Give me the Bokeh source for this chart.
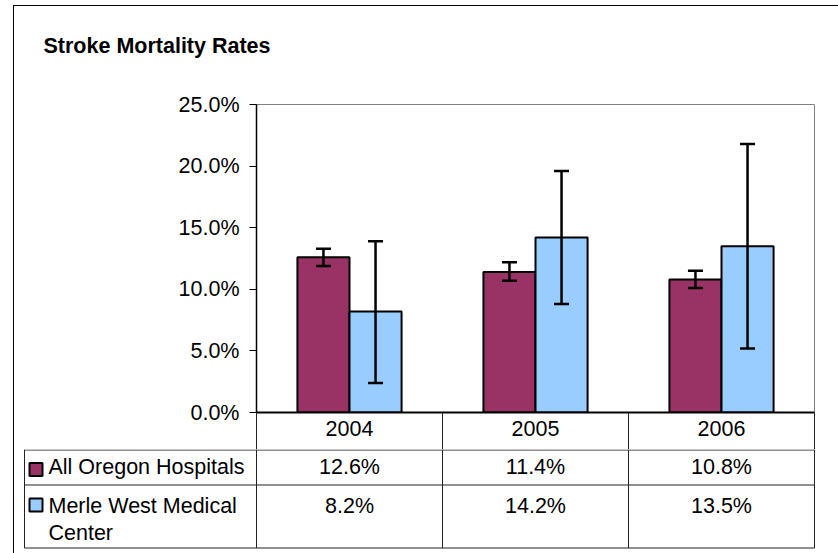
import textwrap
from bokeh.plotting import figure
from bokeh.models import Range1d, FixedTicker, PrintfTickFormatter, ColumnDataSource, Whisker, TeeHead
from bokeh.layouts import column
from bokeh.embed import file_html
from bokeh.resources import INLINE
from bokeh.core.properties import value

# ---------------- data ----------------
title_text = "Stroke Mortality Rates"
years = ["2004", "2005", "2006"]
series_names = ["All Oregon Hospitals", "Merle West Medical Center"]
oregon = [12.6, 11.4, 10.8]
oregon_lo = [11.9, 10.7, 10.1]
oregon_hi = [13.3, 12.2, 11.5]
merle = [8.2, 14.2, 13.5]
merle_lo = [2.4, 8.8, 5.2]
merle_hi = [13.9, 19.6, 21.8]
y_ticks = [0, 5, 10, 15, 20, 25]
colors = ["#993366", "#99CCFF"]

# ---------------- style ----------------
FONT = "Liberation Sans"
FS = "21.5px"
BW = 0.28
OFF = 0.14
PX = 186.0              # pixels per category

n = len(years)
centers = [i + 0.5 for i in range(n)]


def blank(width, height, xr, yr):
    f = figure(width=width, height=height, output_backend="svg", toolbar_location=None,
               x_range=xr, y_range=yr, x_axis_type=None, y_axis_type=None,
               min_border_left=0, min_border_right=0, min_border_top=0, min_border_bottom=0,
               background_fill_color="white", border_fill_color="white")
    f.frame_align = False
    f.outline_line_color = None
    return f


# ---------------- title strip ----------------
pT = blank(816, 60, Range1d(0, 816), Range1d(60, 0))
pT.text(x=[29], y=[39], text=[title_text], text_font=value(FONT), text_font_size=FS,
        text_font_style="bold", text_color="black", text_align="left", text_baseline="middle")

# ---------------- chart ----------------
pA = figure(width=816, height=383, output_backend="svg", toolbar_location=None,
            x_range=Range1d(0, n), y_range=Range1d(y_ticks[0], y_ticks[-1]),
            min_border_left=242, min_border_right=16, min_border_top=38, min_border_bottom=37,
            background_fill_color="white", border_fill_color="white")
pA.frame_align = False
pA.xgrid.visible = False
pA.ygrid.visible = False
pA.outline_line_color = "#808080"
pA.outline_line_width = 1

# y axis
ya = pA.yaxis[0]
ya.ticker = FixedTicker(ticks=y_ticks)
ya.formatter = PrintfTickFormatter(format="%.1f%%")
ya.major_tick_out = 7
ya.major_tick_in = 0
ya.minor_tick_line_color = None
ya.axis_line_color = "black"
ya.axis_line_width = 1.5
ya.major_tick_line_color = "black"
ya.major_label_standoff = 10
ya.major_label_text_font = FONT
ya.major_label_text_font_size = FS
ya.major_label_text_color = "black"

# x axis (category labels + separators into the table header)
xa = pA.xaxis[0]
xa.ticker = FixedTicker(ticks=centers, minor_ticks=[float(i) for i in range(n + 1)])
xa.major_label_overrides = {c: y for c, y in zip(centers, years)}
xa.major_tick_out = 0
xa.major_tick_in = 0
xa.major_tick_line_color = None
xa.minor_tick_out = 37
xa.minor_tick_in = 0
xa.minor_tick_line_color = "#222222"
xa.minor_tick_line_width = 1
xa.axis_line_color = "black"
xa.axis_line_width = 2
xa.major_label_standoff = -29
xa.major_label_text_font = FONT
xa.major_label_text_font_size = FS
xa.major_label_text_color = "black"

# bars
src_o = ColumnDataSource(dict(x=[c - OFF for c in centers], top=oregon, lo=oregon_lo, hi=oregon_hi))
src_m = ColumnDataSource(dict(x=[c + OFF for c in centers], top=merle, lo=merle_lo, hi=merle_hi))
pA.vbar(x="x", top="top", width=BW, source=src_o, fill_color=colors[0], line_color="black", line_width=2)
pA.vbar(x="x", top="top", width=BW, source=src_m, fill_color=colors[1], line_color="black", line_width=2)

for src in (src_o, src_m):
    w = Whisker(source=src, base="x", upper="hi", lower="lo", line_color="black", line_width=2.5,
                upper_head=TeeHead(size=15, line_color="black", line_width=2.5),
                lower_head=TeeHead(size=15, line_color="black", line_width=2.5),
                level="annotation")
    pA.add_layout(w)

# ---------------- data table ----------------
pB = blank(816, 104, Range1d(-242 / PX, 574 / PX), Range1d(104, 0))

tbl_left = (24 - 256) / PX
row_lines = [0.5, 35.5, 98.5]
col_lines = [tbl_left] + [float(i) for i in range(n + 1)]
pB.segment(x0=col_lines, y0=[0] * len(col_lines), x1=col_lines, y1=[98.5] * len(col_lines),
           line_color="#222222", line_width=1)
pB.segment(x0=[tbl_left] * len(row_lines), y0=row_lines, x1=[float(n)] * len(row_lines), y1=row_lines,
           line_color="#222222", line_width=1)

row_mid = [17, 56]
line_h = 27
sq_x = (35.5 - 256) / PX
lab_x = (48 - 256) / PX
pB.scatter(x=[sq_x, sq_x], y=[20, 55.5], marker="square", size=13,
           fill_color=colors, line_color="black", line_width=2)

for r, (name, vals) in enumerate(zip(series_names, [oregon, merle])):
    lines = textwrap.wrap(name, 20)
    pB.text(x=[lab_x] * len(lines), y=[row_mid[r] + k * line_h for k in range(len(lines))], text=lines,
            text_font=value(FONT), text_font_size=FS, text_color="black",
            text_align="left", text_baseline="middle")
    pB.text(x=centers, y=[row_mid[r]] * n, text=[f"{v:.1f}%" for v in vals],
            text_font=value(FONT), text_font_size=FS, text_color="black",
            text_align="center", text_baseline="middle")

layout = column(pT, pA, pB, styles={"margin-left": "13px", "margin-top": "5px", "padding-right": "8px",
                                    "border-left": "1px solid black", "border-top": "1px solid black"})

open("out.html", "w").write(file_html(layout, INLINE))
